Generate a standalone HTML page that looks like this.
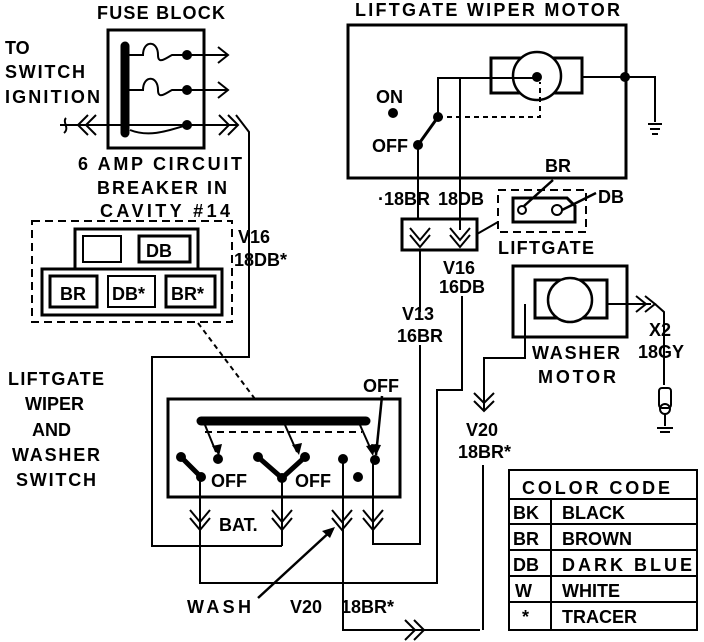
<!DOCTYPE html>
<html><head><style>
html,body{margin:0;padding:0;background:#fff}
svg{display:block}
text{font-family:"Liberation Sans",sans-serif;font-size:18px;font-weight:bold;fill:#000}
</style></head><body>
<svg width="704" height="642" viewBox="0 0 704 642" xmlns="http://www.w3.org/2000/svg">
<g fill="none" stroke="#000" stroke-width="2">
<rect x="108" y="30" width="96" height="118" stroke-width="3"/>
<line x1="125" y1="46" x2="125" y2="133" stroke-width="9" stroke-linecap="round"/>
<path d="M125 55 H143 C143 40 158 40 158 55 C158 65 166 58 172 55 H228"/>
<path d="M125 90 H143 C143 75 158 75 158 90 C158 100 166 93 172 90 H228"/>
<path d="M60 125 H238"/>
<path d="M130 130 C150 138 170 130 187 125"/>
<path d="M218 47 L228 55 L218 63 M218 82 L228 90 L218 98"/>
<path d="M219 115 L229 125 L219 135 M228 115 L238 125 L228 135"/>
<path d="M88 115 L78 125 L88 135 M96 115 L86 125 L96 135"/>
<path d="M66 118 C62 122 70 128 64 133"/>
<path d="M236 115 L249 132 V357 H152 V546 H282"/>
<rect x="32" y="221" width="200" height="101" stroke-dasharray="8,5"/>
<rect x="75" y="229" width="123" height="40" stroke-width="3"/>
<rect x="83" y="236" width="38" height="26"/>
<rect x="139" y="236" width="51" height="26" stroke-width="3"/>
<rect x="42" y="269" width="180" height="46" stroke-width="3"/>
<rect x="50" y="276" width="47" height="31" stroke-width="3"/>
<rect x="108" y="276" width="47" height="31"/>
<rect x="166" y="276" width="49" height="31" stroke-width="3"/>
<line x1="198" y1="323" x2="255" y2="399" stroke-dasharray="5,4"/>
<rect x="168" y="399" width="232" height="98" stroke-width="3"/>
<line x1="201" y1="421" x2="366" y2="421" stroke-width="9" stroke-linecap="round"/>
<line x1="205" y1="432" x2="362" y2="432" stroke-dasharray="7,5"/>
<path d="M205 425 L216 452 M285 425 L297 452 M360 425 L372 452" stroke-width="2"/>
<path d="M181 457 L201 477 M258 457 L282 478 L305 457" stroke-width="5"/>
<path d="M382 396 L376 455" stroke-width="2.5"/>
<path d="M200 477 V583 H437 V390 H462 V296"/>
<path d="M282 478 V546"/>
<path d="M343 459 V630 H480"/>
<path d="M373 460 V544 H420 V345"/>
<path d="M420 312 V250"/>
<path d="M190 510 L200 522 L210 510 M190 518 L200 530 L210 518"/>
<path d="M272 510 L282 522 L292 510 M272 518 L282 530 L292 518"/>
<path d="M332 510 L342 522 L352 510 M332 518 L342 530 L352 518"/>
<path d="M363 510 L373 522 L383 510 M363 518 L373 530 L383 518"/>
<path d="M405 620 L415 630 L405 640 M414 620 L424 630 L414 640"/>
<line x1="258" y1="598" x2="333" y2="529" stroke-width="2.5"/>
<rect x="348" y="25" width="278" height="153" stroke-width="3"/>
<rect x="491" y="58" width="91" height="35" stroke-width="3"/>
<circle cx="537" cy="76" r="24" stroke-width="2.5" fill="#fff"/>
<path d="M438 117 V78 H537"/>
<path d="M460 78 V230"/>
<path d="M438 117 H540 V82" stroke-dasharray="5,4"/>
<path d="M418 145 L438 117" stroke-width="3"/>
<path d="M418 145 V219"/>
<path d="M582 77 H655 V122"/>
<path d="M648 124 H662 M650 129 H660 M652 134 H658"/>
<rect x="402" y="219" width="75" height="31" stroke-width="3"/>
<path d="M410 228 L420 240 L430 228 M410 235 L420 247 L430 235"/>
<path d="M450 228 L460 240 L470 228 M450 235 L460 247 L470 235"/>
<path d="M477 234 L498 222"/>
<rect x="498" y="190" width="88" height="42" stroke-dasharray="8,5"/>
<path d="M513 198 H567 L575 206 V222 H513 Z" stroke-width="3"/>
<circle cx="522" cy="210" r="4"/>
<circle cx="557" cy="210" r="5"/>
<path d="M553 180 L524 206 M596 193 L562 210" stroke-width="2.5"/>
<rect x="513" y="266" width="114" height="71" stroke-width="3"/>
<rect x="535" y="280" width="72" height="38" stroke-width="3"/>
<circle cx="570" cy="300" r="22" stroke-width="2.5" fill="#fff"/>
<path d="M607 304 H651"/>
<path d="M636 296 L646 304 L636 312 M645 296 L655 304 L645 312"/>
<path d="M655 304 L664 312 V385"/>
<path d="M525 304 V358 H484 V410"/>
<path d="M474 393 L484 403 L494 393 M474 401 L484 411 L494 401"/>
<path d="M483 465 V630"/>
<rect x="659" y="388" width="12" height="20" rx="3"/>
<circle cx="665" cy="409" r="5"/>
<path d="M665 414 V426 M657 428 H673 M660 432 H670"/>
<rect x="509" y="470" width="188" height="160"/>
<path d="M509 499 H697 M509 524 H697 M509 550 H697 M509 576 H697 M509 602 H697 M551 499 V630"/>
</g>
<g fill="#000">
<circle cx="187" cy="55" r="5"/><circle cx="187" cy="90" r="5"/><circle cx="187" cy="125" r="5"/>
<circle cx="181" cy="457" r="5"/><circle cx="201" cy="477" r="5"/><circle cx="218" cy="459" r="5"/>
<circle cx="258" cy="457" r="5"/><circle cx="282" cy="478" r="5"/><circle cx="305" cy="457" r="5"/>
<circle cx="343" cy="459" r="5"/><circle cx="358" cy="477" r="5"/><circle cx="375" cy="460" r="5"/>
<circle cx="537" cy="77" r="5"/><circle cx="438" cy="117" r="5"/><circle cx="418" cy="145" r="5"/>
<circle cx="393" cy="113" r="5"/><circle cx="625" cy="77" r="5"/>
<path d="M212 446 L219 456 L222 444 Z M292 445 L299 455 L302 443 Z M366 446 L373 456 L376 444 Z M371 444 L376 456 L381 445 Z M322 531 L335 527 L330 538 Z"/>
</g>
<text x="97" y="19" textLength="128">FUSE BLOCK</text>
<text x="5" y="54">TO</text>
<text x="5" y="78" textLength="80">SWITCH</text>
<text x="5" y="103" textLength="95">IGNITION</text>
<text x="78" y="170" textLength="164">6 AMP CIRCUIT</text>
<text x="97" y="194" textLength="130">BREAKER IN</text>
<text x="100" y="217" textLength="130">CAVITY #14</text>
<text x="146" y="257">DB</text>
<text x="60" y="300">BR</text>
<text x="112" y="300">DB*</text>
<text x="171" y="300">BR*</text>
<text x="238" y="243">V16</text>
<text x="234" y="266">18DB*</text>
<text x="8" y="385" textLength="96">LIFTGATE</text>
<text x="25" y="410">WIPER</text>
<text x="32" y="436">AND</text>
<text x="12" y="461" textLength="88">WASHER</text>
<text x="16" y="486" textLength="80">SWITCH</text>
<text x="211" y="487">OFF</text>
<text x="295" y="487">OFF</text>
<text x="363" y="392">OFF</text>
<text x="219" y="531">BAT.</text>
<text x="187" y="613" textLength="64">WASH</text>
<text x="290" y="613">V20</text>
<text x="341" y="613">18BR*</text>
<text x="355" y="16" textLength="265">LIFTGATE WIPER MOTOR</text>
<text x="376" y="103">ON</text>
<text x="372" y="152">OFF</text>
<text x="378" y="205">·18BR</text>
<text x="438" y="205">18DB</text>
<text x="545" y="172">BR</text>
<text x="598" y="203">DB</text>
<text x="498" y="254" textLength="96">LIFTGATE</text>
<text x="443" y="274">V16</text>
<text x="439" y="293">16DB</text>
<text x="402" y="320">V13</text>
<text x="397" y="342">16BR</text>
<text x="532" y="359" textLength="88">WASHER</text>
<text x="538" y="383" textLength="78">MOTOR</text>
<text x="649" y="336">X2</text>
<text x="638" y="358">18GY</text>
<text x="466" y="436">V20</text>
<text x="458" y="458">18BR*</text>
<text x="522" y="494" textLength="148">COLOR CODE</text>
<text x="513" y="519">BK</text><text x="562" y="519">BLACK</text>
<text x="513" y="545">BR</text><text x="562" y="545">BROWN</text>
<text x="513" y="571">DB</text><text x="562" y="571" textLength="130">DARK BLUE</text>
<text x="515" y="597">W</text><text x="562" y="597">WHITE</text>
<text x="522" y="623">*</text><text x="562" y="623">TRACER</text>
</svg>
</body></html>
